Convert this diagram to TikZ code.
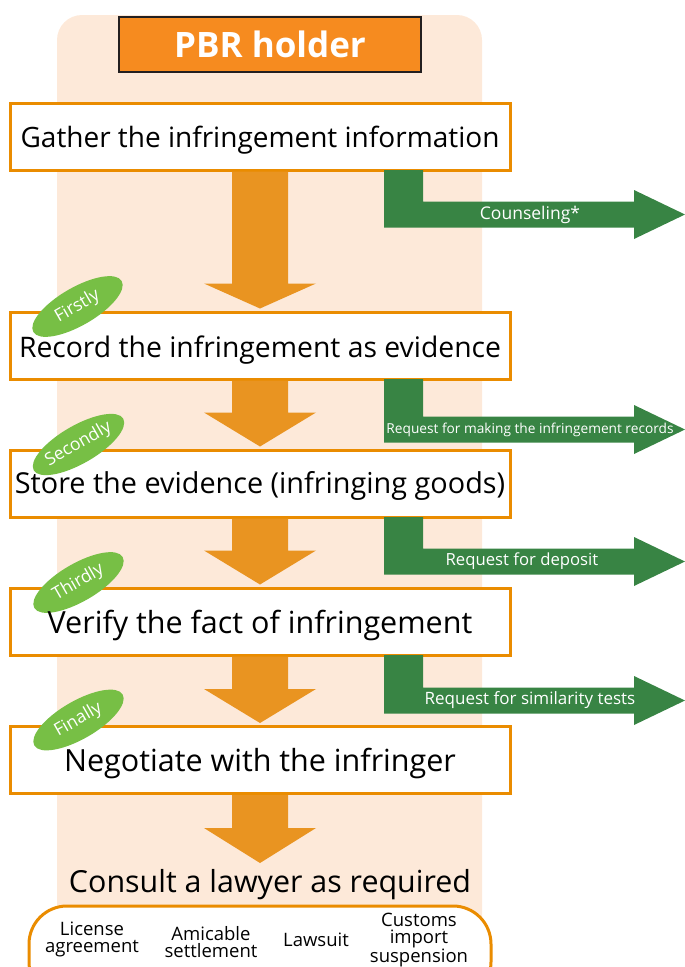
\documentclass[tikz,border=0pt]{standalone}
\usepackage{fontspec}
\setmainfont{Open Sans}
\usetikzlibrary{calc,shapes.geometric}
\definecolor{peach}{RGB}{253,233,217}
\definecolor{holderfill}{RGB}{246,139,31}
\definecolor{holderline}{RGB}{35,31,32}
\definecolor{stepline}{RGB}{234,140,0}
\definecolor{oarrow}{RGB}{233,148,33}
\definecolor{garrow}{RGB}{56,132,68}
\definecolor{tagfill}{RGB}{119,191,69}
% #1 from node, #2 tip coordinate, #3 head length
\newcommand\orarrow[3]{%
  \fill[oarrow] ($(#1.south)+(-28,0)$) -- ($(#1.south)+(28,0)$)
    -- ($(#2)+(28,-#3)$) -- ($(#2)+(56,-#3)$) -- (#2)
    -- ($(#2)+(-56,-#3)$) -- ($(#2)+(-28,-#3)$) -- cycle;}
% #1 node, #2 band centre offset, #3 label name, #4 label, #5 label x offset
\newcommand\grarrow[5]{%
  \fill[garrow] ($(#1.south)+(124,-1.5)$) -- ($(#1.south)+(163,-1.5)$)
    -- ($(#1.south)+(163,#2-13)$) -- ($(#1.south)+(374,#2-13)$)
    -- ($(#1.south)+(374,#2-24.5)$) -- ($(#1.south)+(425,#2)$)
    -- ($(#1.south)+(374,#2+24.5)$) -- ($(#1.south)+(374,#2+13)$)
    -- ($(#1.south)+(124,#2+13)$) -- cycle;
  \node[glabel] (#3) at ($(#1.south)+(#5,#2)$) {#4};}
\newcommand\fs[1]{\fontsize{#1}{#1}\selectfont}
\begin{document}
\begin{tikzpicture}[x=1pt,y=-1pt,
  holder/.style={draw=holderline, line width=2.5pt, fill=holderfill, text=white,
    minimum width=302pt, minimum height=55pt, inner sep=0pt,
    font=\fontsize{35}{38}\selectfont\bfseries},
  stepbox/.style={draw=stepline, line width=3pt, fill=white,
    minimum width=500pt, minimum height=67pt, inner sep=0pt},
  steptext/.style={inner sep=0pt, text height=20.5pt, text depth=0pt},
  tag/.style={ellipse, fill=tagfill, text=white, minimum width=102pt,
    minimum height=38pt, inner sep=0pt, rotate=30,
    font=\fontsize{17.5}{19}\selectfont},
  glabel/.style={text=white, inner sep=0pt},
  choice/.style={align=center, inner sep=0pt, font=\fontsize{18.5}{17}\selectfont}]
\useasboundingbox (0,0) rectangle (685,967);
\clip (0,0) rectangle (685,967);
\fill[peach, rounded corners=25pt] (57,15) rectangle (482,1010);
\node[holder] (pbr) at (270,44.5) {PBR holder};
\node[stepbox] (s1) at (260,136.5) {};
\node[stepbox] (s2) at (260,345.5) {};
\node[stepbox] (s3) at (260,483.5) {};
\node[stepbox] (s4) at (260,621.5) {};
\node[stepbox] (s5) at (260,760) {};
\coordinate (t1) at ($(s2.north)+(0,-2)$);
\coordinate (t2) at ($(s3.north)+(0,-2)$);
\coordinate (t3) at ($(s4.north)+(0,-2)$);
\coordinate (t4) at ($(s5.north)+(0,-2)$);
\coordinate (t5) at (260,863);
\orarrow{s1}{t1}{25}
\orarrow{s2}{t2}{34}
\orarrow{s3}{t3}{34}
\orarrow{s4}{t4}{34}
\orarrow{s5}{t5}{35}
\grarrow{s1}{43}{g1}{\fs{17.5}Counseling*}{270}
\grarrow{s2}{49}{g2}{\fs{13.7}Request for making the infringement records}{270}
\grarrow{s3}{43}{g3}{\fs{16.7}Request for deposit}{262}
\grarrow{s4}{44}{g4}{\fs{17}Request for similarity tests}{270}
\node[tag] (e1) at ($(s2.north west)+(69,-4)$) {Firstly};
\node[tag] (e2) at ($(s3.north west)+(70,-4)$) {Secondly};
\node[tag] (e3) at ($(s4.north west)+(70,-4)$) {Thirdly};
\node[tag] (e4) at ($(s5.north west)+(70,-5)$) {Finally};
\node[steptext, font=\fs{28}] (x1) at ($(s1.center)+(0,1)$) {Gather the infringement information};
\node[steptext, font=\fs{28.3}] (x2) at ($(s2.center)+(0,2)$) {Record the infringement as evidence};
\node[steptext, font=\fs{28.8}] (x3) at ($(s3.center)+(0,0)$) {Store the evidence (infringing goods)};
\node[steptext, font=\fs{30.5}] (x4) at ($(s4.center)+(0,1.5)$) {Verify the fact of infringement};
\node[steptext, font=\fs{30.5}] (x5) at ($(s5.center)+(0,1)$) {Negotiate with the infringer};
\node[steptext, font=\fs{30.4}, text height=21.5pt] (law) at (270,882) {Consult a lawyer as required};
\draw[stepline, line width=3pt, fill=white, rounded corners=38pt] (29,906) rectangle (491,1000);
\node[choice] (c1) at (92,939) {License\\agreement};
\node[choice] (c2) at (211,942) {Amicable\\settlement};
\node[choice] (c3) at (316,940) {Lawsuit};
\node[choice] (c4) at (419,940) {Customs\\import\\suspension};
\end{tikzpicture}
\end{document}
